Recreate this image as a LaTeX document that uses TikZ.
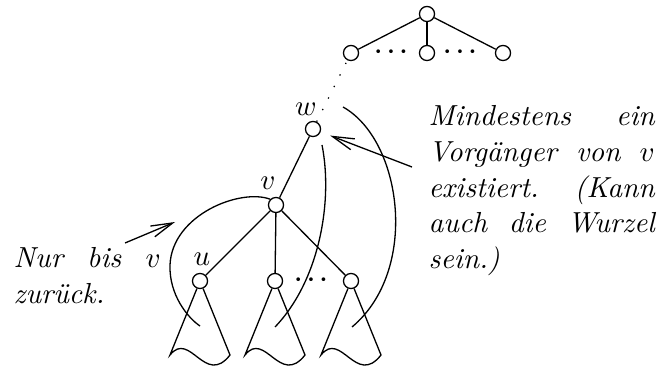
\documentclass[tikz,border=0pt]{standalone}
\usepackage{tikz}
\usetikzlibrary{arrows.meta}
\tolerance=10000
\hbadness=10000
\hyphenpenalty=10000

\begin{document}
\begin{tikzpicture}[x=0.345pt, y=-0.345pt, line width=0.45pt,
    font=\fontsize{10}{12.3}\selectfont,
    knot/.style={circle, draw, fill=white, inner sep=0pt, minimum size=5.2pt},
    etc/.style={font=\fontsize{8.5}{8.5}\selectfont\boldmath, inner sep=0pt},
    remark/.style={font=\fontsize{10}{12.3}\selectfont\itshape, inner sep=0pt,
      align=justify, anchor=north west},
    hint/.style={-{Straight Barb[length=7.5pt,width=4pt]}}]
  \useasboundingbox (0,0) rectangle (658,367);
  % --- upper part of the tree ---
  \node[knot] (root) at (427,14) {};
  \node[knot] (ta) at (351,53) {};
  \node[knot] (tb) at (427,53) {};
  \node[knot] (tc) at (503,53) {};
  \node[etc] (da) at (391,52) {$\cdots$};
  \node[etc] (db) at (460,52) {$\cdots$};
  \draw (root) -- (ta);
  \draw (root) -- (tb);
  \draw (root) -- (tc);
  % --- w, v and the children of v ---
  \node[knot] (w) at (313,129) {};
  \node[knot] (v) at (276,205) {};
  \node[knot] (u) at (200,281) {};
  \node[knot] (m) at (275,281) {};
  \node[knot] (r) at (351,281) {};
  \node[etc] (dm) at (311,280) {$\cdots$};
  \node (wl) at (306,109) {$w$};
  \node (vl) at (268,183) {$v$};
  \node (ul) at (202,259) {$u$};
  \draw[loosely dotted] (w) -- (ta);
  \draw (w) -- (v);
  \draw (v) -- (u);
  \draw (v) -- (m);
  \draw (v) -- (r);
  % --- subtrees ---
  \foreach \n/\x in {u/200, m/275, r/351}
    \draw (\n) -- (\x-30,355) .. controls (\x-10,330) and (\x+5,387) .. (\x+30,355) -- (\n);
  % --- back edges ---
  \coordinate (ua) at (200,326);
  \coordinate (wa) at (322,145);
  \coordinate (mb) at (275,327);
  \coordinate (ra) at (343,107);
  \coordinate (rb) at (352,327);
  \draw (v.north west) .. controls (240,188) and (172,215) .. (170,265)
    .. controls (169,295) and (188,318) .. (ua);
  \draw (wa) .. controls (333,200) and (320,280) .. (mb);
  \draw (ra) .. controls (402,140) and (420,270) .. (rb);
  % --- remarks ---
  \node[remark, text width=50.7pt] (back) at (13,247) {Nur bis $v$ zurück.};
  \node[remark, text width=78pt] (pre) at (428,105)
    {Mindestens ein Vorgänger von $v$ existiert. (Kann auch die Wurzel sein.)};
  \coordinate (nb) at (125,243);
  \coordinate (nt) at (175,222);
  \coordinate (mt) at (412,167);
  \draw[hint] (nb) -- (nt);
  \draw[hint, shorten >=3.5pt] (mt) -- (w);
\end{tikzpicture}
\end{document}
